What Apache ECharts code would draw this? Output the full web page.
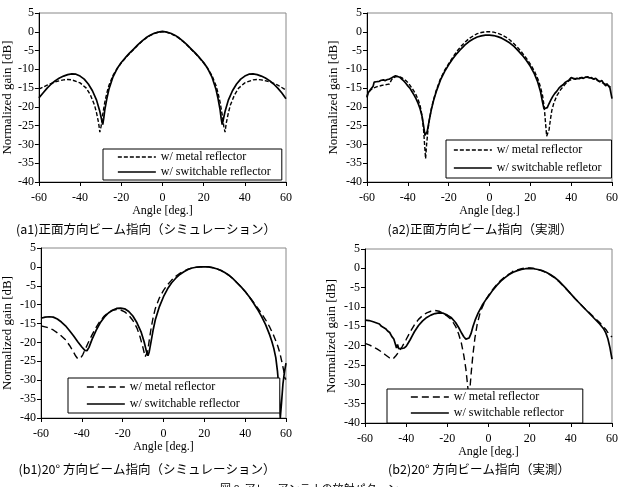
<!DOCTYPE html>
<html>
<head>
<meta charset="utf-8">
<title>放射パターン</title>
<script src="https://cdn.jsdelivr.net/npm/echarts@6/dist/echarts.min.js"></script>
<style>
  body { margin: 0; background: #fff; }
  #main { width: 621px; height: 487px; }
</style>
</head>
<body>
<div id="main"></div>
<script>
// tick labels / axis ranges
var angleTicks = [-60, -40, -20, 0, 20, 40, 60];
var gainTicks = [5, 0, -5, -10, -15, -20, -25, -30, -35, -40];

var nameMetal = 'w/ metal reflector';
var nameSwitch = 'w/ switchable reflector';
var nameSwitchA2 = 'w/ switchable refletor';

var captions = [
    '(a1)正面方向ビーム指向（シミュレーション）',
    '(a2)正面方向ビーム指向（実測）',
    '(b1)20° 方向ビーム指向（シミュレーション）',
    '(b2)20° 方向ビーム指向（実測）'
];
var figCaption = '図 8  アレーアンテナの放射パターン';

// (a1) simulation, broadside   [angle, gain]
var a1Metal = [[-60,-15.3],[-56,-14.2],[-52,-13.3],[-48,-12.8],[-46,-12.7],[-44,-12.8],[-40,-13.6],[-37,-15],[-35,-16.8],[-33,-19.5],[-32,-21.6],[-31,-24.3],[-30.4,-26.7],[-29.8,-25.2],[-29,-22],[-28,-18.8],[-27,-16.3],[-26,-14.3],[-24,-11.6],[-22,-9.8],[-20,-8.3],[-18,-7],[-16,-5.8],[-14,-4.7],[-12,-3.6],[-10,-2.6],[-8,-1.7],[-6,-1],[-4,-0.5],[-2,-0.1],[0,0],[2,-0.1],[4,-0.5],[6,-1],[8,-1.7],[10,-2.6],[12,-3.6],[14,-4.7],[16,-5.8],[18,-7],[20,-8.3],[22,-9.8],[24,-11.6],[26,-14.3],[27,-16.3],[28,-18.8],[29,-22],[29.8,-25.2],[30.4,-26.7],[31,-24.3],[32,-21.6],[33,-19.5],[35,-16.8],[37,-15],[40,-13.6],[44,-12.8],[46,-12.7],[48,-12.8],[52,-13.3],[56,-14.2],[60,-15.5]];
var a1Switch = [[-60,-17.6],[-58,-16.3],[-56,-15],[-54,-13.9],[-52,-13],[-50,-12.3],[-48,-11.8],[-46,-11.4],[-44,-11.2],[-42,-11.3],[-40,-11.8],[-38,-12.6],[-36,-13.9],[-34,-15.7],[-32,-18.2],[-30.5,-21],[-29.5,-23.5],[-29,-24.7],[-28.5,-23],[-28,-20.8],[-27,-17.8],[-26,-15.3],[-24,-12],[-22,-9.8],[-20,-8.2],[-18,-6.9],[-16,-5.7],[-14,-4.6],[-12,-3.5],[-10,-2.5],[-8,-1.6],[-6,-0.9],[-4,-0.4],[-2,-0.1],[0,0.1],[2,-0.1],[4,-0.4],[6,-0.9],[8,-1.6],[10,-2.5],[12,-3.5],[14,-4.6],[16,-5.7],[18,-6.9],[20,-8.2],[22,-9.8],[24,-12],[26,-15.3],[27,-17.8],[28,-20.8],[28.5,-23],[29,-24.7],[29.5,-23.5],[30.5,-21],[32,-18.2],[34,-15.7],[36,-13.9],[38,-12.6],[40,-11.8],[42,-11.3],[44,-11.2],[46,-11.4],[48,-11.8],[50,-12.3],[52,-13],[54,-13.9],[56,-15],[58,-16.3],[60,-17.8]];

// (a2) measured, broadside
var a2Metal = [[-60,-17.3],[-59.5,-16.2],[-59,-15.8],[-58,-15.4],[-57,-15],[-56,-14.8],[-55,-14.6],[-54,-14.5],[-53,-14.3],[-52,-14.2],[-51,-14.1],[-50,-14],[-49,-13.9],[-48.5,-13.6],[-48,-12.8],[-47,-12.2],[-46,-12],[-45,-11.9],[-44,-12],[-43,-12.2],[-42,-12.6],[-41,-13],[-40,-13.5],[-39,-14.2],[-38,-15],[-37,-15.8],[-36,-16.8],[-35,-18],[-34,-19.6],[-33,-22.5],[-32.3,-26],[-31.8,-30],[-31.3,-33.8],[-30.8,-30],[-30.2,-26.5],[-29.5,-23.5],[-28.5,-20.5],[-27,-17.3],[-26,-15.5],[-24,-12.5],[-22,-10.3],[-20,-8.5],[-18,-6.8],[-16,-5.2],[-14,-3.9],[-12,-2.8],[-10,-1.8],[-8,-1.1],[-6,-0.5],[-4,-0.2],[-2,0],[0,0],[2,-0.1],[4,-0.4],[6,-0.8],[8,-1.4],[10,-2.2],[12,-3.2],[14,-4.3],[16,-5.6],[18,-7],[20,-8.6],[22,-10.5],[24,-13],[25,-14.8],[26,-17],[26.8,-20],[27.4,-24],[28,-27.8],[28.6,-28],[29.2,-26],[29.8,-23.5],[30.5,-21],[31.5,-19],[33,-17],[35,-15.3],[37,-14],[39,-13],[41,-12.5],[43,-12.4],[45,-12.2],[47,-12.1],[49,-12.2],[51,-12.6],[53,-13],[55,-13.5],[57,-14],[59,-14.6],[60,-15.2]];
var a2Switch = [[-60,-17.5],[-59.5,-16.3],[-59,-15.8],[-58,-15.2],[-57,-14.5],[-56.5,-13.4],[-56,-13],[-55.5,-13.3],[-55,-12.9],[-54,-13.2],[-53,-12.9],[-52,-12.8],[-51,-13],[-50,-12.7],[-49,-12.6],[-48,-12.3],[-47,-12],[-46,-11.7],[-45,-11.9],[-44,-12.1],[-43,-12.6],[-42,-13.1],[-41,-13.7],[-40,-14.4],[-39,-15],[-38,-15.9],[-37,-16.8],[-36,-17.8],[-35,-19],[-34,-20.5],[-33,-22.6],[-32.3,-25],[-31.6,-27.6],[-31,-27.8],[-30.5,-26.5],[-30,-25],[-29.3,-23],[-28.5,-20.8],[-27.5,-18.5],[-26,-15.8],[-24,-12.8],[-22,-10.6],[-20,-8.8],[-18,-7.2],[-16,-5.8],[-14,-4.6],[-12,-3.5],[-10,-2.6],[-8,-1.9],[-6,-1.4],[-4,-1.1],[-2,-0.9],[0,-0.9],[2,-1],[4,-1.3],[6,-1.7],[8,-2.3],[10,-3],[12,-3.9],[14,-5],[16,-6.2],[18,-7.6],[20,-9.2],[22,-11.2],[23.5,-13.2],[25,-16],[26,-18.8],[26.7,-20.5],[27.5,-20.7],[28.3,-20.2],[29,-19.3],[30,-18.2],[31,-17.2],[32,-16.4],[33,-15.8],[34,-15],[35,-14.5],[36,-14.1],[37,-13.5],[38,-13.2],[39,-12.8],[40,-12.2],[41,-12.4],[42,-12.6],[43,-12.4],[44,-12.5],[45,-12.2],[46,-12.4],[47,-12.1],[48,-12],[49,-12.3],[50,-12.2],[51,-12.6],[52,-12.4],[53,-12.9],[54,-13.3],[55,-13],[56,-13.8],[57,-14.4],[57.5,-13.8],[58,-14.2],[59,-15],[59.5,-15.4],[60,-17.8]];

// (b1) simulation, 20 deg steering
var b1Metal = [[-60,-15.6],[-57,-16],[-54,-16.7],[-51,-17.8],[-48,-19.3],[-46,-20.8],[-44,-22.6],[-43,-23.6],[-42,-24.3],[-41.3,-24.5],[-40.5,-24.1],[-39.5,-23.2],[-38,-21.4],[-37,-20.2],[-35,-18],[-33,-16],[-31,-14.3],[-29,-13],[-27,-12.1],[-25,-11.5],[-23,-11.3],[-21,-11.4],[-19,-11.9],[-17,-12.8],[-15,-14.2],[-13,-16.2],[-11.5,-18.5],[-10,-21.5],[-9,-23.8],[-8.4,-24.1],[-7.8,-22.5],[-7,-19.5],[-6,-16],[-5,-13.2],[-4,-11],[-2,-8.2],[0,-6.2],[2,-4.7],[4,-3.5],[6,-2.5],[8,-1.7],[10,-1.1],[12,-0.6],[14,-0.3],[16,-0.1],[18,0],[20,0],[22,0],[24,-0.2],[26,-0.5],[28,-0.9],[30,-1.5],[32,-2.2],[34,-3.1],[36,-4.2],[38,-5.3],[40,-6.5],[42,-7.9],[44,-9.3],[46,-10.8],[48,-12.3],[50,-14],[52,-15.9],[54,-18.2],[56,-21],[57,-22.8],[58,-25.2],[59,-27.8],[59.5,-29.5],[60,-29.8]];
var b1Switch = [[-60,-13.6],[-58,-13.3],[-56,-13.2],[-54,-13.3],[-52,-13.8],[-50,-14.6],[-48,-15.6],[-46,-16.9],[-44,-18.3],[-42,-19.8],[-40,-21.2],[-38.5,-22.1],[-37.5,-22.2],[-36.5,-21.3],[-35,-19.2],[-33,-16.8],[-31,-14.8],[-29,-13.3],[-27,-12.2],[-25,-11.5],[-23,-11],[-21,-10.9],[-19,-11.1],[-17,-11.8],[-15,-13],[-13,-14.8],[-11,-17.2],[-9.5,-19.8],[-8.3,-22.5],[-7.6,-23.5],[-7,-22.5],[-6,-19.5],[-5,-16.5],[-4,-14],[-2,-10.5],[0,-7.9],[2,-5.8],[4,-4.2],[6,-3],[8,-2],[10,-1.3],[12,-0.7],[14,-0.3],[16,-0.1],[18,0],[20,0],[22,0],[24,-0.2],[26,-0.5],[28,-0.9],[30,-1.5],[32,-2.2],[34,-3.1],[36,-4.2],[38,-5.3],[40,-6.5],[42,-7.9],[44,-9.5],[46,-11.2],[48,-13.1],[50,-15.3],[52,-18],[53,-19.6],[54,-21.5],[55,-24],[55.8,-27.5],[56.5,-32],[57.2,-40],[57.8,-36],[58.5,-31],[59.2,-28],[60,-25.5]];

// (b2) measured, 20 deg steering
var b2Metal = [[-60,-19.4],[-58,-19.8],[-56,-20.3],[-54,-20.9],[-52,-21.6],[-50,-22.4],[-48,-23.2],[-47,-23.5],[-46,-23.2],[-45,-22.6],[-44,-21.9],[-42,-20.3],[-40,-18.4],[-38,-16.4],[-36,-14.6],[-34,-13.2],[-32,-12.2],[-30,-11.5],[-28,-11.1],[-26,-10.9],[-24,-11.1],[-22,-11.6],[-20,-12.4],[-18,-13.3],[-16,-15],[-14.5,-17],[-13.2,-19.3],[-12,-22.5],[-11,-26],[-10.2,-30],[-9.6,-33.2],[-9,-31],[-8.4,-27],[-7.6,-22.5],[-6.6,-18],[-5.5,-14.5],[-4,-11.3],[-2,-8.8],[0,-7],[2,-5.5],[4,-4.2],[6,-3.1],[8,-2.2],[10,-1.5],[11,-1.2],[12,-0.7],[14,-0.4],[16,-0.1],[18,0.1],[20,0.1],[22,0],[24,-0.3],[26,-0.6],[28,-1.1],[30,-1.7],[32,-2.4],[34,-3.3],[36,-4.4],[38,-5.5],[40,-6.6],[42,-7.8],[44,-8.9],[46,-10],[48,-11],[50,-12],[52,-13],[54,-14],[56,-15.2],[57,-15.8],[58,-16.6],[59,-17.2],[60,-17.8]];
var b2Switch = [[-60,-13.4],[-58,-13.5],[-56,-13.8],[-54,-14.2],[-53,-14.4],[-52,-15],[-51,-15.3],[-50,-15.6],[-49,-16.2],[-48,-16.6],[-47,-17.6],[-46,-18.3],[-45.3,-19.5],[-44.7,-20.6],[-44.2,-19.7],[-43.6,-20.8],[-43,-20.3],[-42,-20.7],[-41,-20.6],[-40,-20.2],[-39,-19.3],[-38,-18.4],[-37,-17.4],[-36,-16.4],[-34,-14.8],[-32,-13.6],[-30,-12.7],[-28,-12.1],[-26,-11.7],[-24,-11.5],[-22,-11.6],[-20,-12.1],[-18,-12.8],[-16,-14],[-14.5,-15.3],[-13,-16.8],[-12,-17.7],[-11,-18.3],[-10.2,-18.4],[-9.4,-18],[-8.5,-16.9],[-7.5,-15],[-6.5,-13.4],[-5,-11.5],[-3,-9.5],[-1,-7.9],[0,-7.2],[2,-5.7],[4,-4.4],[6,-3.3],[8,-2.4],[10,-1.6],[12,-1],[14,-0.6],[16,-0.3],[18,-0.1],[20,0],[22,-0.1],[24,-0.3],[26,-0.6],[28,-1],[30,-1.6],[32,-2.3],[34,-3.2],[36,-4.3],[38,-5.4],[40,-6.6],[42,-7.8],[44,-8.9],[46,-10],[48,-11.1],[50,-12.2],[52,-13.3],[54,-14.4],[56,-15.7],[57,-16.7],[58,-18.2],[59,-20.5],[60,-23.5]];

var serif = '"Liberation Serif", "DejaVu Serif", serif';
var cjk = '"Noto Sans CJK JP", sans-serif';

// panel layout: plot rectangles, axis name gaps, legend boxes
var panels = [
    { grid: [36, 13, 250, 169], yGap: 22, xGap: 18, metal: a1Metal, sw: a1Switch, swName: nameSwitch, dash: [4, 2],
      legend: { left: 103, top: 149, padding: [2, 11, 2, 14], itemGap: 3 }, cap: [146, 229] },
    { grid: [367, 13, 246, 169], yGap: 27, xGap: 18, metal: a2Metal, sw: a2Switch, swName: nameSwitchA2, dash: [4, 2],
      legend: { left: 446, top: 140, padding: [4, 10, 4, 7], itemGap: 6 }, cap: [480, 229] },
    { grid: [39, 248, 247, 170], yGap: 27, xGap: 22, metal: b1Metal, sw: b1Switch, swName: nameSwitch, dash: [7, 4],
      legend: { left: 68, top: 378, padding: [3, 40, 3, 18], itemGap: 5 }, cap: [147, 469] },
    { grid: [365, 249, 248, 174], yGap: 27, xGap: 13, metal: b2Metal, sw: b2Switch, swName: nameSwitch, dash: [7, 4],
      legend: { left: 387, top: 389, padding: [2, 19, 4, 23], itemGap: 4 }, cap: [479, 469] }
];

var grids = [], xAxes = [], yAxes = [], series = [], legends = [], texts = [];

panels.forEach(function (p, i) {
    grids.push({
        left: p.grid[0], top: p.grid[1], width: p.grid[2], height: p.grid[3],
        show: true, borderColor: '#888', borderWidth: 1, backgroundColor: '#fff'
    });
    xAxes.push({
        type: 'value', gridIndex: i, min: angleTicks[0], max: angleTicks[angleTicks.length - 1], interval: 20,
        name: 'Angle [deg.]', nameLocation: 'middle', nameGap: p.xGap,
        nameTextStyle: { fontFamily: serif, fontSize: 12, color: '#000' },
        axisLine: { onZero: false, lineStyle: { color: '#000', width: 1 } },
        axisTick: { show: true, length: 4, lineStyle: { color: '#000' } },
        axisLabel: { fontFamily: serif, fontSize: 12, color: '#000', margin: 10 },
        splitLine: { show: false }
    });
    yAxes.push({
        type: 'value', gridIndex: i, min: gainTicks[gainTicks.length - 1], max: gainTicks[0], interval: 5,
        name: 'Normalized gain [dB]', nameLocation: 'middle', nameRotate: 90, nameGap: p.yGap,
        nameTextStyle: { fontFamily: serif, fontSize: 13, color: '#000' },
        axisLine: { show: true, onZero: false, lineStyle: { color: '#000', width: 1 } },
        axisTick: { show: true, length: 4, lineStyle: { color: '#000' } },
        axisLabel: { fontFamily: serif, fontSize: 12, color: '#000', margin: 5 },
        splitLine: { show: false }
    });
    series.push({
        type: 'line', name: nameMetal, xAxisIndex: i, yAxisIndex: i, data: p.metal,
        symbol: 'none', animation: false, z: 3, color: '#000',
        lineStyle: { color: '#000', width: 1.4, type: p.dash }
    });
    series.push({
        type: 'line', name: p.swName, xAxisIndex: i, yAxisIndex: i, data: p.sw,
        symbol: 'none', animation: false, z: 4, color: '#000',
        lineStyle: { color: '#000', width: 1.7, type: 'solid' }
    });
    legends.push({
        show: true, orient: 'vertical', left: p.legend.left, top: p.legend.top, padding: p.legend.padding,
        itemGap: p.legend.itemGap, itemWidth: 38, itemHeight: 10, z: 10,
        backgroundColor: '#fff', borderColor: '#000', borderWidth: 1,
        itemStyle: { opacity: 0 },
        textStyle: { fontFamily: serif, fontSize: 12, color: '#000' },
        data: [
            { name: nameMetal, itemStyle: { opacity: 0 }, lineStyle: { type: p.dash, width: 1.4, color: '#000' } },
            { name: p.swName, itemStyle: { opacity: 0 }, lineStyle: { type: 'solid', width: 1.7, color: '#000' } }
        ]
    });
    texts.push({
        type: 'text', x: p.cap[0], y: p.cap[1],
        style: { text: captions[i], fill: '#000', font: '12.5px ' + cjk,
                 textAlign: 'center', textVerticalAlign: 'middle' }
    });
});

texts.push({
    type: 'text', x: 220, y: 483,
    style: { text: figCaption, fill: '#000', font: '11px ' + cjk, textAlign: 'left', textVerticalAlign: 'top' }
});

var myChart = echarts.init(document.getElementById('main'));
myChart.setOption({
    backgroundColor: '#fff',
    animation: false,
    grid: grids,
    xAxis: xAxes,
    yAxis: yAxes,
    legend: legends,
    series: series,
    graphic: texts
});
</script>
</body>
</html>
